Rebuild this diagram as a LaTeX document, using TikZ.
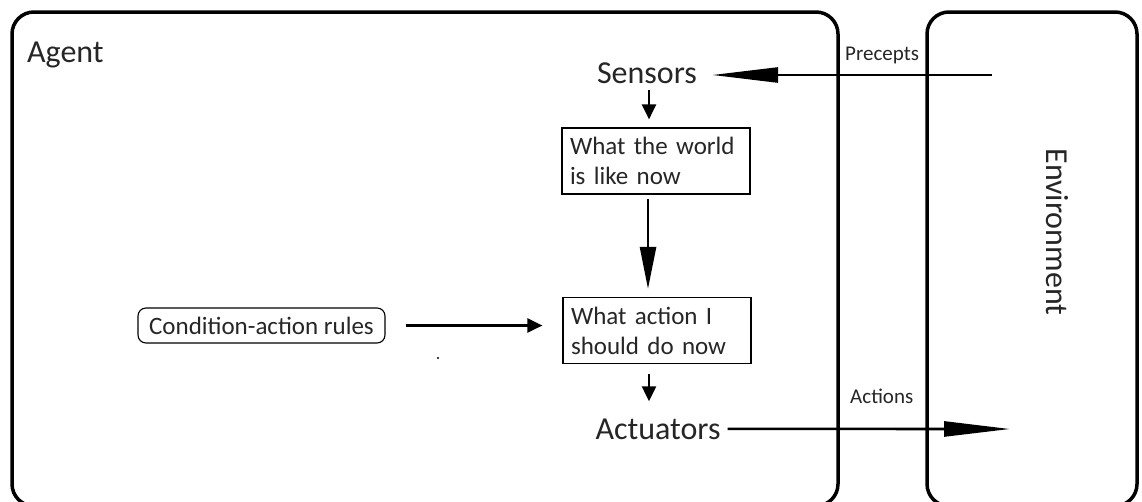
\documentclass[tikz,border=0pt]{standalone}
\usepackage{fontspec}
\setmainfont{Carlito}
\usetikzlibrary{arrows.meta}
\tikzset{
    every node/.style={inner sep=0pt, text=black!85},
    frame/.style={line width=3.5pt, rounded corners=22pt},
    statebox/.style={draw, line width=1.2pt, minimum width=188pt, minimum height=66pt,
        text width=172pt, inner xsep=8pt, align=left, font=\fontsize{25}{30}\selectfont},
    rulebox/.style={draw, line width=1.1pt, rounded corners=8pt, minimum width=247pt,
        minimum height=35pt, font=\fontsize{25}{30}\selectfont},
    bigword/.style={font=\fontsize{32}{38}\selectfont},
    smallword/.style={font=\fontsize{21}{25}\selectfont},
    smallarrow/.style={line width=2.4pt, -{Triangle[length=15pt,width=14pt]}},
    longarrow/.style={line width=2.6pt, -{Triangle[length=66pt,width=15pt]}}
}

\begin{document}
\begin{tikzpicture}[x=1pt, y=-1pt]
        \clip (0,0) rectangle (1142,501);
        \fill[white] (0,0) rectangle (1142,501);
        % agent and environment
        \draw[frame] (12,12) rectangle (838,506);
        \draw[frame] (927,12) rectangle (1137,506);
        \node (agent) [bigword, anchor=base west] at (27,62) {Agent};
        \node (env) [bigword, rotate=-90] at (1057,232) {Environment};

        \node (sensors) [bigword, anchor=base] at (647,83) {Sensors};
        \node (world) [statebox] at (656,161) {What the world\\is like now};
        \node (action) [statebox] at (657,330.5) {What action I\\should do now};
        \node (actuators) [bigword, anchor=base] at (658,439) {Actuators};
        \node (rules) [rulebox] at (261.5,325.5) {Condition-action rules};

        \node (precepts) [smallword, anchor=base west] at (845,60) {Precepts};
        \node (actions) [smallword, anchor=base west] at (850,403) {Actions};

        \coordinate (percin) at (992,75);
        \coordinate (actout) at (1010,429);
        \fill (438,358) circle (1.2pt);

        \draw[longarrow, shorten >=15pt] (percin) -- (percin -| sensors.east);
        \draw[smallarrow, shorten <=7pt, shorten >=8pt] ([xshift=2pt]sensors.south) -- ([xshift=2pt]sensors.south |- world.north);
        \draw[line width=2.6pt, -{Triangle[length=42pt,width=16pt]}, shorten <=4pt, shorten >=8pt]
                ([xshift=-8pt]world.south) -- ([xshift=-8pt]world.south |- action.north);
        \draw[smallarrow, shorten <=20pt, shorten >=20pt] (rules.east) -- (rules.east -| action.west);
        \draw[smallarrow, shorten <=10pt, shorten >=17pt] ([xshift=-8pt]action.south) -- ([xshift=-8pt]action.south |- actuators.north);
        \draw[longarrow, shorten <=7pt] (actuators.east) -- (actout);
\end{tikzpicture}
\end{document}
